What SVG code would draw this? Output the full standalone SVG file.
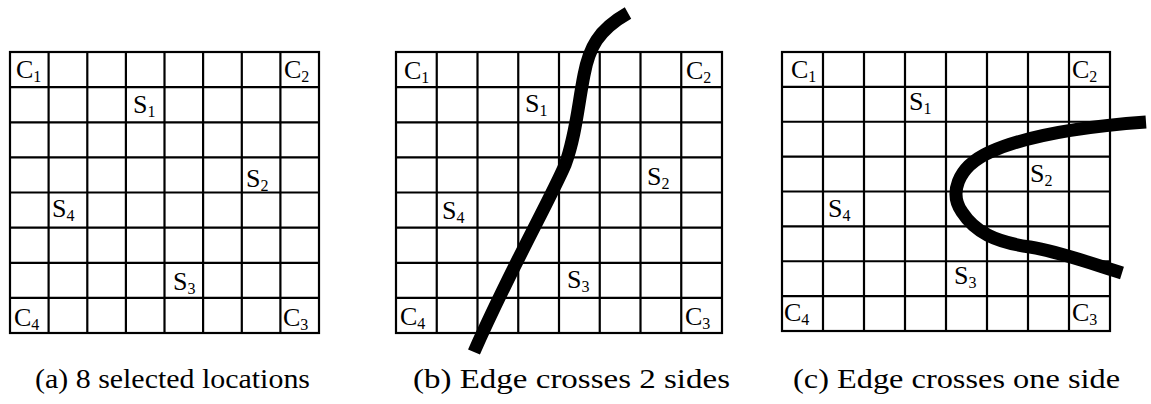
<svg xmlns="http://www.w3.org/2000/svg" width="1151" height="404" viewBox="0 0 1151 404">
<style>
.grid{fill:none;stroke:#000;stroke-width:2.2}
.lb{font-family:'Liberation Serif','Times New Roman','DejaVu Serif Condensed','DejaVu Serif',serif;font-size:26px;fill:#000}
.sub{font-size:16px}
.cap{font-family:'Liberation Serif','Times New Roman','DejaVu Serif Condensed','DejaVu Serif',serif;font-size:27px;fill:#000}
.edge{fill:none;stroke:#000;stroke-width:13;stroke-linecap:butt;stroke-linejoin:round}
</style>
<rect width="1151" height="404" fill="#fff"/>
<g id="panel-a">
<rect class="grid" x="10" y="52" width="309" height="281"/>
<path class="grid" d="M48.6,52V333M87.3,52V333M125.9,52V333M164.5,52V333M203.1,52V333M241.8,52V333M280.4,52V333M10,87.1H319M10,122.3H319M10,157.4H319M10,192.5H319M10,227.6H319M10,262.8H319M10,297.9H319"/>
<text class="lb" x="16" y="78">C<tspan class="sub" dy="4">1</tspan></text>
<text class="lb" x="284" y="78">C<tspan class="sub" dy="4">2</tspan></text>
<text class="lb" x="133" y="113">S<tspan class="sub" dy="4">1</tspan></text>
<text class="lb" x="246" y="187">S<tspan class="sub" dy="4">2</tspan></text>
<text class="lb" x="52" y="217">S<tspan class="sub" dy="4">4</tspan></text>
<text class="lb" x="173" y="290">S<tspan class="sub" dy="4">3</tspan></text>
<text class="lb" x="14" y="326">C<tspan class="sub" dy="4">4</tspan></text>
<text class="lb" x="283" y="326">C<tspan class="sub" dy="4">3</tspan></text>
<text class="cap" x="35" y="388" textLength="275" lengthAdjust="spacingAndGlyphs">(a) 8 selected locations</text>
</g>
<g id="panel-b">
<rect class="grid" x="396" y="52" width="326" height="281"/>
<path class="grid" d="M436.75,52V333M477.5,52V333M518.25,52V333M559,52V333M599.75,52V333M640.5,52V333M681.25,52V333M396,87.1H722M396,122.3H722M396,157.4H722M396,192.5H722M396,227.6H722M396,262.8H722M396,297.9H722"/>
<text class="lb" x="404" y="79">C<tspan class="sub" dy="4">1</tspan></text>
<text class="lb" x="686" y="79">C<tspan class="sub" dy="4">2</tspan></text>
<text class="lb" x="525" y="112">S<tspan class="sub" dy="4">1</tspan></text>
<text class="lb" x="647" y="185">S<tspan class="sub" dy="4">2</tspan></text>
<text class="lb" x="442" y="219">S<tspan class="sub" dy="4">4</tspan></text>
<text class="lb" x="567" y="288">S<tspan class="sub" dy="4">3</tspan></text>
<text class="lb" x="400" y="325">C<tspan class="sub" dy="4">4</tspan></text>
<text class="lb" x="685" y="325">C<tspan class="sub" dy="4">3</tspan></text>
<text class="cap" x="413" y="388" textLength="317" lengthAdjust="spacingAndGlyphs">(b) Edge crosses 2 sides</text>
</g>
<g id="panel-c">
<rect class="grid" x="782" y="52" width="328" height="279"/>
<path class="grid" d="M823,52V331M864,52V331M905,52V331M946,52V331M987,52V331M1028,52V331M1069,52V331M782,86.9H1110M782,121.75H1110M782,156.6H1110M782,191.5H1110M782,226.4H1110M782,261.25H1110M782,296.1H1110"/>
<text class="lb" x="791" y="78">C<tspan class="sub" dy="4">1</tspan></text>
<text class="lb" x="1072" y="78">C<tspan class="sub" dy="4">2</tspan></text>
<text class="lb" x="909" y="110">S<tspan class="sub" dy="4">1</tspan></text>
<text class="lb" x="1030" y="182">S<tspan class="sub" dy="4">2</tspan></text>
<text class="lb" x="828" y="217">S<tspan class="sub" dy="4">4</tspan></text>
<text class="lb" x="954" y="284">S<tspan class="sub" dy="4">3</tspan></text>
<text class="lb" x="784" y="321">C<tspan class="sub" dy="4">4</tspan></text>
<text class="lb" x="1072" y="321">C<tspan class="sub" dy="4">3</tspan></text>
<text class="cap" x="793" y="388" textLength="327" lengthAdjust="spacingAndGlyphs">(c) Edge crosses one side</text>
</g>
<g id="edges">
<path class="edge" d="M628,13 C598,30 589,48 584,75 C578,105 576,135 565,165 C550,200 510,270 474,352"/>
<path class="edge" d="M1146,122 C1090,126 1030,134 990,152 C955,168 950,195 962,212 C975,232 995,242 1030,247 C1060,252 1090,263 1122,273"/>
</g>
</svg>
